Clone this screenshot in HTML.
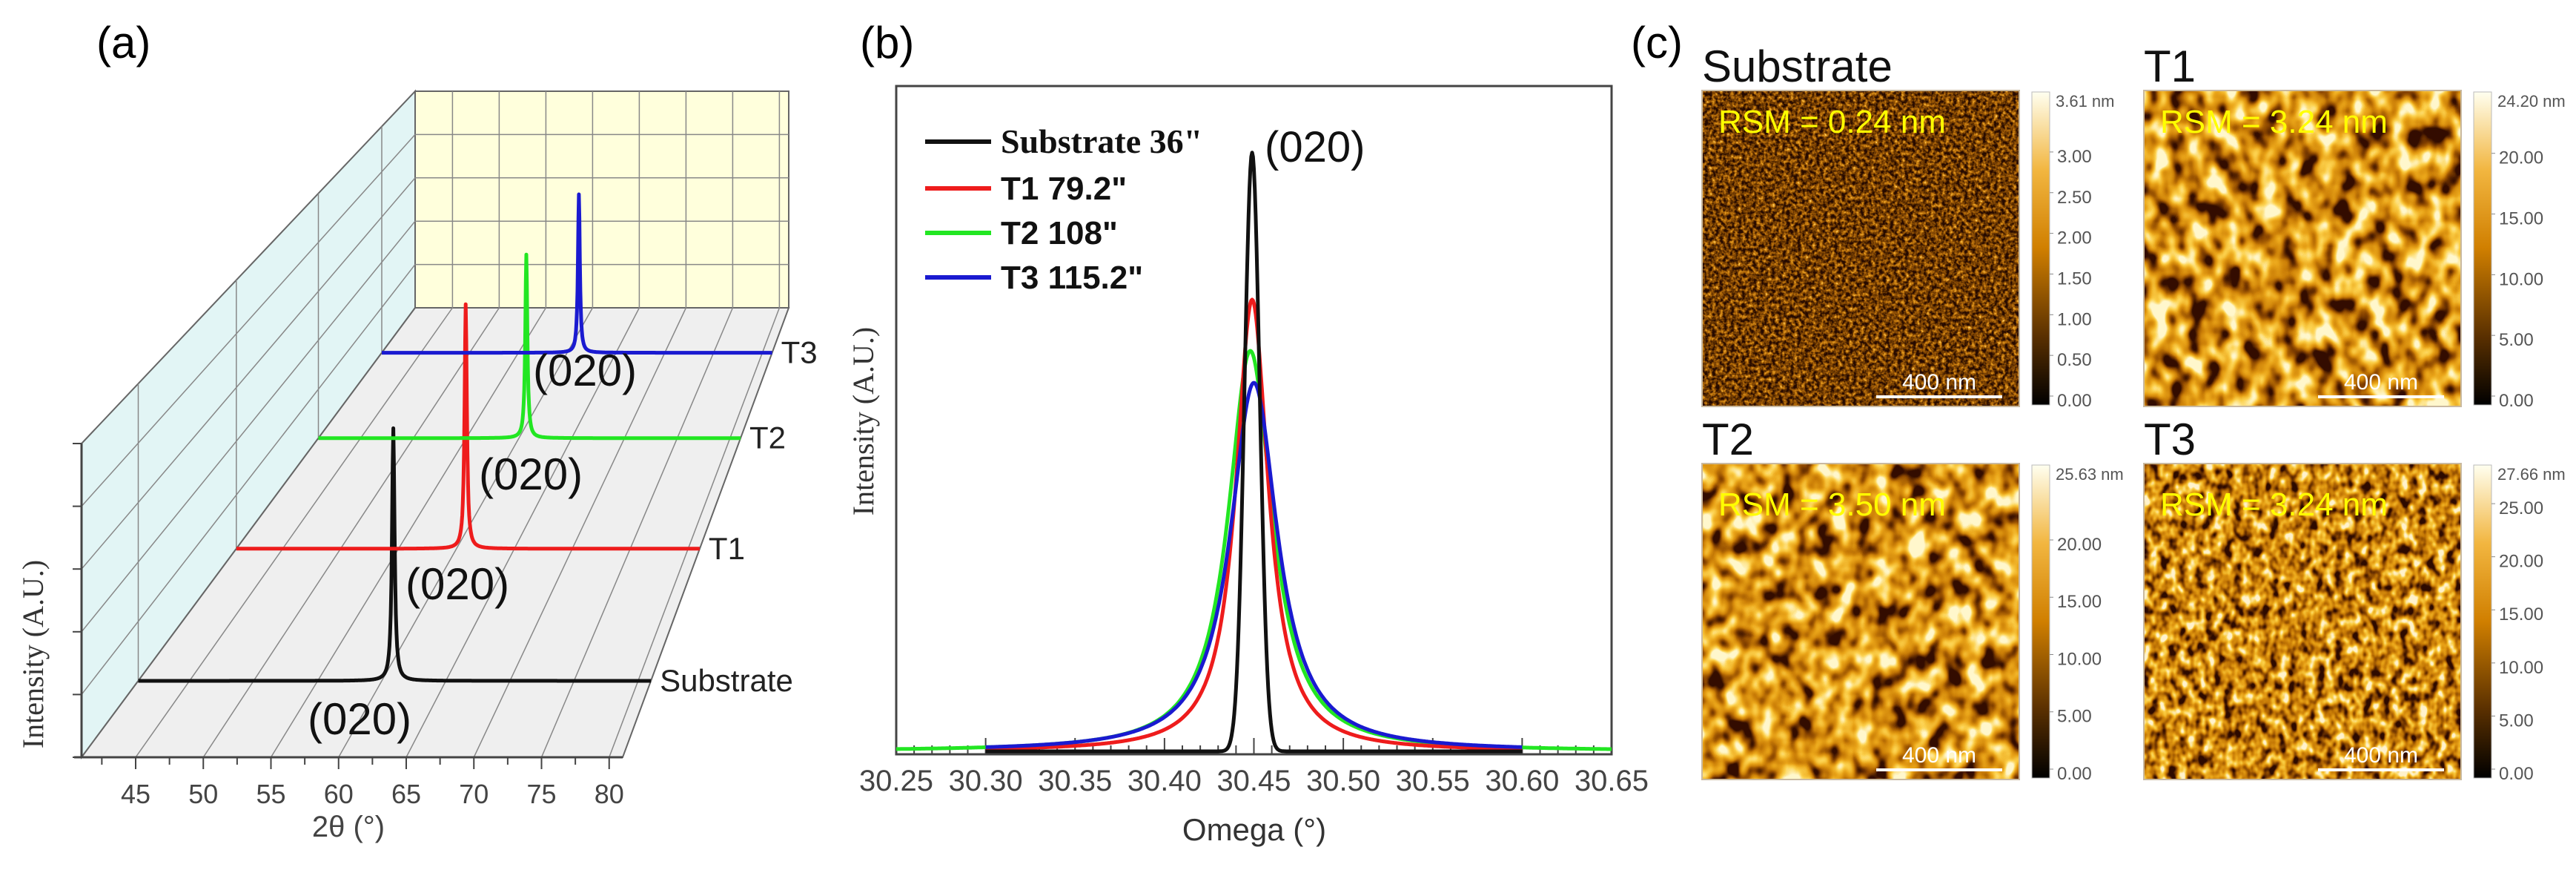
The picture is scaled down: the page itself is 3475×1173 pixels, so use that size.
<!DOCTYPE html>
<html><head><meta charset="utf-8">
<style>
html,body{margin:0;padding:0;background:#fff;width:3475px;height:1173px;overflow:hidden;}
svg{display:block;}
text{font-family:"Liberation Sans",sans-serif;}
.serif{font-family:"Liberation Serif",serif;}
</style></head>
<body>
<svg id="fig" width="3475" height="1173" viewBox="0 0 3475 1173" xmlns="http://www.w3.org/2000/svg" overflow="hidden">
<defs>
 <linearGradient id="cbar" x1="0" y1="1" x2="0" y2="0">
  <stop offset="0" stop-color="#000"/>
  <stop offset="0.22" stop-color="#5a3000"/>
  <stop offset="0.5" stop-color="#d07f00"/>
  <stop offset="0.75" stop-color="#f2b640"/>
  <stop offset="1" stop-color="#fffff0"/>
 </linearGradient>
 <filter id="afm0" x="0" y="0" width="100%" height="100%" color-interpolation-filters="sRGB">
  <feTurbulence type="fractalNoise" baseFrequency="0.2" numOctaves="3" seed="3"/>
  <feColorMatrix type="matrix" values="1.6 0 0 0 -0.5  1.6 0 0 0 -0.5  1.6 0 0 0 -0.5  0 0 0 0 1"/>
  <feComponentTransfer><feFuncR type="table" tableValues="0.15 0.36 0.56 0.75 0.92 1"/><feFuncG type="table" tableValues="0.04 0.18 0.31 0.46 0.64 0.92"/><feFuncB type="table" tableValues="0 0 0.02 0.05 0.15 0.6"/></feComponentTransfer>
 </filter>
 <filter id="afm1" x="0" y="0" width="100%" height="100%" color-interpolation-filters="sRGB">
  <feTurbulence type="fractalNoise" baseFrequency="0.04 0.03" numOctaves="2" seed="7"/>
  <feColorMatrix type="matrix" values="2.4 0 0 0 -0.7  2.4 0 0 0 -0.7  2.4 0 0 0 -0.7  0 0 0 0 1"/>
  <feComponentTransfer><feFuncR type="table" tableValues="0.2 0.55 0.8 0.92 0.99 1"/><feFuncG type="table" tableValues="0.05 0.28 0.5 0.65 0.82 0.97"/><feFuncB type="table" tableValues="0 0 0.03 0.1 0.3 0.8"/></feComponentTransfer>
 </filter>
 <filter id="afm2" x="0" y="0" width="100%" height="100%" color-interpolation-filters="sRGB">
  <feTurbulence type="fractalNoise" baseFrequency="0.04 0.032" numOctaves="2" seed="11"/>
  <feColorMatrix type="matrix" values="2.4 0 0 0 -0.7  2.4 0 0 0 -0.7  2.4 0 0 0 -0.7  0 0 0 0 1"/>
  <feComponentTransfer><feFuncR type="table" tableValues="0.2 0.55 0.8 0.92 0.99 1"/><feFuncG type="table" tableValues="0.05 0.28 0.5 0.65 0.82 0.97"/><feFuncB type="table" tableValues="0 0 0.03 0.1 0.3 0.8"/></feComponentTransfer>
 </filter>
 <filter id="afm3" x="0" y="0" width="100%" height="100%" color-interpolation-filters="sRGB">
  <feTurbulence type="fractalNoise" baseFrequency="0.08 0.06" numOctaves="2" seed="19"/>
  <feColorMatrix type="matrix" values="2.2 0 0 0 -0.62  2.2 0 0 0 -0.62  2.2 0 0 0 -0.62  0 0 0 0 1"/>
  <feComponentTransfer><feFuncR type="table" tableValues="0.18 0.5 0.76 0.9 0.98 1"/><feFuncG type="table" tableValues="0.04 0.25 0.46 0.62 0.8 0.95"/><feFuncB type="table" tableValues="0 0 0.02 0.08 0.25 0.8"/></feComponentTransfer>
 </filter>
</defs>

<text x="130" y="78" font-size="60">(a)</text>
<text x="1160" y="78" font-size="60">(b)</text>
<text x="2200" y="78" font-size="60">(c)</text>

<g id="pa"></g>
<g id="pb"></g>
<g id="pc"></g>
</svg>

<script>
// ---------- Panel (a) data ----------
const aSeriesNames = ['Substrate','T1','T2','T3'];
const aPeakPos = [60.9, 60.8, 60.7, 61.2];
const aPeakHeight = [0.85, 0.91, 0.75, 0.70];
const aDepth = [0.17, 0.464, 0.71, 0.9];
const aTicks = [45,50,55,60,65,70,75,80];
const aColors = ['#111111','#ee1c1c','#22e622','#1a1ad0'];

// ---------- Panel (b) data ----------
const bSeriesNames = ['Substrate 36"','T1 79.2"','T2 108"','T3 115.2"'];
const bCenter = [30.449, 30.449, 30.448, 30.450];
const bHeight = [0.90, 0.679, 0.602, 0.554];
const bFwhmArcsec = [36, 79.2, 108, 115.2];
const bStart = [30.30, 30.30, 30.25, 30.30];
const bEnd = [30.60, 30.60, 30.65, 30.60];
const bShape = ['gauss','lorentz','lorentz','lorentz'];
const bTicks = [30.25,30.30,30.35,30.40,30.45,30.50,30.55,30.60,30.65];

// ---------- Panel (c) data ----------
const cTitles = ['Substrate','T1','T2','T3'];
const cRsm = ['RSM = 0.24 nm','RSM = 3.24 nm','RSM = 3.50 nm','RSM = 3.24 nm'];
const cMax = ['3.61 nm','24.20 nm','25.63 nm','27.66 nm'];
const cMaxVal = [3.61, 24.20, 25.63, 27.66];
const cTickVals = [[3.00,2.50,2.00,1.50,1.00,0.50,0.00],[20,15,10,5,0],[20,15,10,5,0],[25,20,15,10,5,0]];

const NS='http://www.w3.org/2000/svg';
function mk(parent, tag, attrs, txt){
  const e=document.createElementNS(NS,tag);
  for(const k in attrs) e.setAttribute(k,attrs[k]);
  if(txt!==undefined) e.textContent=txt;
  parent.appendChild(e); return e;
}

// ===== Panel (a) =====
(function(){
  const g=document.getElementById('pa');
  const vMin=41, vMax=81;
  const fx0=110, fx1=840, bx0=560, bx1=1064;
  const fy=1021, by=415;
  const hFront=423, hBack=292;
  function X(v,d){const f=fx0+(v-vMin)/(vMax-vMin)*(fx1-fx0); const b=bx0+(v-vMin)/(vMax-vMin)*(bx1-bx0); return f+(b-f)*d;}
  function Y(d,h){return fy+(by-fy)*d - h*(hFront+(hBack-hFront)*d);}
  let e=mk(g,'polygon',{points:`${X(vMin,0)},${Y(0,1)} ${X(vMin,1)},${Y(1,1)} ${X(vMin,1)},${Y(1,0)} ${X(vMin,0)},${Y(0,0)}`,fill:'#e2f5f5',stroke:'#666','stroke-width':2});
   
  e=mk(g,'polygon',{points:`${X(vMin,1)},${Y(1,1)} ${X(vMax,1)},${Y(1,1)} ${X(vMax,1)},${Y(1,0)} ${X(vMin,1)},${Y(1,0)}`,fill:'#ffffdc',stroke:'#666','stroke-width':2});
   
  e=mk(g,'polygon',{points:`${X(vMin,0)},${Y(0,0)} ${X(vMax,0)},${Y(0,0)} ${X(vMax,1)},${Y(1,0)} ${X(vMin,1)},${Y(1,0)}`,fill:'#efefef',stroke:'#666','stroke-width':2});
   
  const gl=mk(g,'g',{stroke:'#888','stroke-width':1.5,fill:'none'});
   
  for(let k=1;k<5;k++){const h=k/5;
    mk(gl,'line',{x1:X(vMin,0),y1:Y(0,h),x2:X(vMin,1),y2:Y(1,h)});
    mk(gl,'line',{x1:X(vMin,1),y1:Y(1,h),x2:X(vMax,1),y2:Y(1,h)});}
  for(let v=45;v<=80;v+=5){
    mk(gl,'line',{x1:X(v,0),y1:Y(0,0),x2:X(v,1),y2:Y(1,0)});
    mk(gl,'line',{x1:X(v,1),y1:Y(1,0),x2:X(v,1),y2:Y(1,1)});}
  for(const d of aDepth){mk(gl,'line',{x1:X(vMin,d),y1:Y(d,0),x2:X(vMin,d),y2:Y(d,1)});}
  mk(g,'line',{x1:X(vMin,0)-10,y1:fy,x2:X(vMax,0),y2:fy,stroke:'#444','stroke-width':3});
  mk(g,'line',{x1:X(vMin,0),y1:Y(0,0),x2:X(vMin,0),y2:Y(0,1),stroke:'#444','stroke-width':3});
  for(let v=42.5;v<=80;v+=2.5){const maj=Math.abs(v%5)<1e-6;
    mk(g,'line',{x1:X(v,0),y1:fy,x2:X(v,0),y2:fy+(maj?16:10),stroke:'#444','stroke-width':2});}
  for(let k=0;k<=5;k++){mk(g,'line',{x1:X(vMin,0)-12,y1:Y(0,k/5),x2:X(vMin,0),y2:Y(0,k/5),stroke:'#444','stroke-width':2});}
  for(const v of aTicks){
    const t=mk(g,'text',{x:X(v,0),y:1083,'font-size':36,fill:'#444','text-anchor':'middle'},String(v));
     
  }
  let t=mk(g,'text',{x:470,y:1128,'font-size':40,fill:'#444','text-anchor':'middle'},'2θ (°)');
   
  t=mk(g,'text',{x:0,y:0,'font-size':40,fill:'#333','text-anchor':'middle',class:'serif',transform:'translate(58,882) rotate(-90)'},'Intensity (A.U.)');
   
  const labelOff=[[415,990],[547,808],[646,660],[719,520]];
  for(let i=0;i<aSeriesNames.length;i++){
    const d=aDepth[i]; let pts=[];
    for(let v=vMin; v<=vMax+1e-9; v+=0.05){
      const w=0.12; const h=aPeakHeight[i]/(1+((v-aPeakPos[i])/w)**2);
      pts.push(X(v,d).toFixed(1)+','+Y(d,h).toFixed(1));
    }
    const p=mk(g,'polyline',{points:pts.join(' '),fill:'none',stroke:aColors[i],'stroke-width':5,'stroke-linejoin':'round'});
    
    
    const lb=mk(g,'text',{x:X(vMax,d)+12,y:Y(d,0)+14,'font-size':42,fill:'#222'},aSeriesNames[i]);
    
    
    const pk=mk(g,'text',{x:labelOff[i][0],y:labelOff[i][1],'font-size':60,fill:'#111'},'(020)');
    
    
  }
})();

// ===== Panel (b) =====
(function(){
  const g=document.getElementById('pb');
  const L=1209,R=2174,T=116,B=1017, base=1013;
  const xMin=30.25,xMax=30.65;
  function X(v){return L+(v-xMin)/(xMax-xMin)*(R-L);}
  function Y(h){return base-h*(base-T);}
  let e=mk(g,'rect',{x:L,y:T,width:R-L,height:B-T,fill:'#fff',stroke:'#444','stroke-width':3});
   
  for(let k=0;k<=40;k++){const v=xMin+k*0.01; const maj=k%5===0;
    mk(g,'line',{x1:X(v),y1:B,x2:X(v),y2:B-(maj?22:12),stroke:'#444','stroke-width':2});}
  for(const v of bTicks){
    const t=mk(g,'text',{x:X(v),y:1066,'font-size':40,fill:'#444','text-anchor':'middle'},v.toFixed(2));
     
  }
  let t=mk(g,'text',{x:1692,y:1133,'font-size':42,fill:'#333','text-anchor':'middle'},'Omega (°)');
   
  t=mk(g,'text',{x:0,y:0,'font-size':40,fill:'#333','text-anchor':'middle',class:'serif',transform:'translate(1178,568) rotate(-90)'},'Intensity (A.U.)');
   
  const colors=['#111111','#ee1c1c','#22e622','#1a1ad0'];
  const order=[2,1,3,0];
  for(const i of order){
    const fw=bFwhmArcsec[i]/3600; let pts=[];
    for(let v=bStart[i]; v<=bEnd[i]+1e-9; v+=0.0005){
      const dx=v-bCenter[i]; let h;
      if(bShape[i]==='gauss'){h=bHeight[i]*Math.exp(-4*Math.LN2*dx*dx/(fw*fw));}
      else{h=bHeight[i]/(1+(2*dx/fw)**2);}
      pts.push(X(v).toFixed(1)+','+Y(h).toFixed(1));
    }
    const p=mk(g,'polyline',{points:pts.join(' '),fill:'none',stroke:colors[i],'stroke-width':5,'stroke-linejoin':'round'});
    
    
  }
  t=mk(g,'text',{x:1706,y:218,'font-size':58,fill:'#111'},'(020)');
   
  const ly=[191,254,314,374];
  for(let i=0;i<4;i++){
    const le=mk(g,'g',{});
    
    
    mk(le,'line',{x1:1248,y1:ly[i],x2:1337,y2:ly[i],stroke:colors[i],'stroke-width':6});
    mk(le,'text',{x:1350,y:ly[i]+15,'font-size':i===0?46:44,'font-weight':'bold',fill:'#111',class:i===0?'serif':''},bSeriesNames[i]);
  }
})();

// ===== Panel (c) =====
(function(){
  const g=document.getElementById('pc');
  const imX=[2296,2892,2296,2892], imY=[122,122,625,625], imW=428, imH=426;
  for(let i=0;i<4;i++){
    const x=imX[i], y=imY[i];
    const grp=mk(g,'g',{});
    
    
    const tt=mk(grp,'text',{x:x,y:y-12,'font-size':60,fill:'#111'},cTitles[i]);
     
    mk(grp,'rect',{x:x,y:y,width:imW,height:imH,filter:'url(#afm'+i+')'});
    mk(grp,'rect',{x:x,y:y,width:imW,height:imH,fill:'none',stroke:'#c9b9a0','stroke-width':2});
    const rs=mk(grp,'text',{x:x+22,y:y+(i<2?57:70),'font-size':44,fill:'#ffff00'},cRsm[i]);
     
    const sbY=y+imH-13;
    mk(grp,'line',{x1:x+235,y1:sbY,x2:x+405,y2:sbY,stroke:'#fff','stroke-width':4});
    const sb=mk(grp,'text',{x:x+320,y:sbY-10,'font-size':30,fill:'#fff','text-anchor':'middle'},'400 nm');
     
    const cbx=x+imW+17, cbw=24;
    const cb=mk(grp,'rect',{x:cbx,y:y+2,width:cbw,height:imH-4,fill:'url(#cbar)',stroke:'#bbb','stroke-width':1});
     
    const cl=mk(grp,'text',{x:cbx+cbw+8,y:y+22,'font-size':22,fill:'#555'},cMax[i]);
     
    for(const v of cTickVals[i]){
      const yy=y+imH-6-(v/cMaxVal[i])*(imH-30);
      mk(grp,'line',{x1:cbx+cbw,y1:yy-8,x2:cbx+cbw+5,y2:yy-8,stroke:'#888','stroke-width':1});
      const tl=mk(grp,'text',{x:cbx+cbw+10,y:yy+6,'font-size':24,fill:'#555'},v.toFixed(2));
       
    }
  }
})();
</script>
</body></html>
